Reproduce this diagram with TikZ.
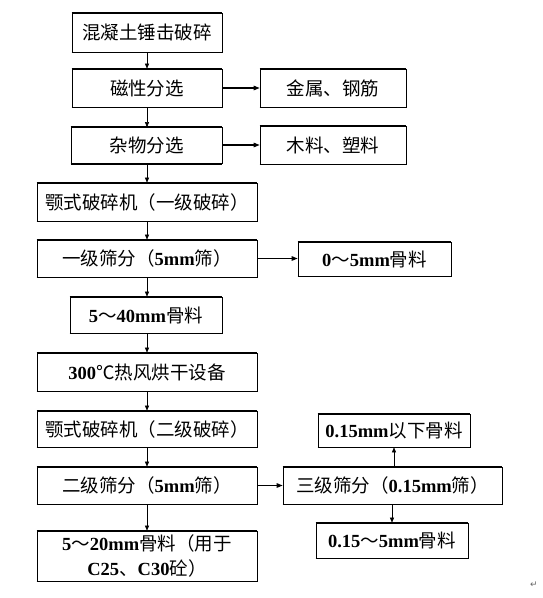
\documentclass[tikz,border=0pt]{standalone}
\usepackage{fontspec}
\setmainfont{Liberation Serif}
\newfontfamily\cjk{Noto Sans CJK SC}
\newfontfamily\latf{Liberation Serif}
\newfontfamily\symf{DejaVu Sans}
\newcommand\lt[1]{{\latf\bfseries #1}}
\usetikzlibrary{arrows.meta}
\tikzset{
  box/.style={draw=black, line width=0.7pt, fill=white, inner sep=0pt, align=center,
    font=\cjk\fontsize{18.5}{25}\selectfont},
  vline/.style={line width=0.5pt, -{Triangle[length=5pt,width=4pt]}},
  hline/.style={line width=1.1pt, -{Triangle[length=6pt,width=4.5pt]}},
  edge/.style={line width=1.4pt}
}
\begin{document}
\begin{tikzpicture}[x=1pt,y=-1pt]
\useasboundingbox[fill=white] (0,0) rectangle (543,598);
% main column
\node[box, minimum width=150, minimum height=39] (b1) at (147,32.5) {混凝土锤击破碎};
\node[box, minimum width=150, minimum height=38] (b2) at (147,88) {磁性分选};
\node[box, minimum width=151, minimum height=36] (b3) at (146.5,145.5) {杂物分选};
\node[box, minimum width=220, minimum height=38] (b4) at (147,202) {颚式破碎机（一级破碎）};
\node[box, minimum width=220, minimum height=37] (b5) at (147,258.5) {一级筛分（\lt{5mm}筛）};
\node[box, minimum width=152, minimum height=36] (b6) at (146,315) {\lt{5}～\lt{40mm}骨料};
\node[box, minimum width=220, minimum height=38] (b7) at (147,372) {\lt{300}℃热风烘干设备};
\node[box, minimum width=220, minimum height=36] (b8) at (147,429) {颚式破碎机（二级破碎）};
\node[box, minimum width=220, minimum height=37] (b9) at (147,485.5) {二级筛分（\lt{5mm}筛）};
\node[box, minimum width=220, minimum height=50] (b10) at (147,556) {\lt{5}～\lt{20mm}骨料（用于\\\lt{C25}、\lt{C30}砼）};
% right column
\node[box, minimum width=146, minimum height=38] (r1) at (333,88) {金属、钢筋};
\node[box, minimum width=146, minimum height=38] (r2) at (333,145) {木料、塑料};
\node[box, minimum width=153, minimum height=34] (r3) at (374.5,259) {\lt{0}～\lt{5mm}骨料};
\node[box, minimum width=152, minimum height=33] (r4) at (394,430.5) {\lt{0.15mm}以下骨料};
\node[box, minimum width=219, minimum height=37] (r5) at (392.5,485.5) {三级筛分（\lt{0.15mm}筛）};
\node[box, minimum width=152, minimum height=35] (r6) at (392,540.5) {\lt{0.15}～\lt{5mm}骨料};
% thicker top and bottom edges
\foreach \n in {b1,b2,b3,b4,b5,b6,b7,b8,b9,b10,r1,r2,r3,r4,r5,r6}{
  \draw[edge] (\n.north west) -- (\n.north east);
  \draw[edge] (\n.south west) -- (\n.south east);
}
% vertical connectors
\draw[vline] (b1.south) -- (b2.north);
\draw[vline] (b2.south) -- (b3.north -| b2.south);
\draw[vline] (b3.south -| b1.south) -- (b4.north);
\draw[vline] (b4.south) -- (b5.north);
\draw[vline] (b5.south) -- (b6.north -| b5.south);
\draw[vline] (b6.south -| b5.south) -- (b7.north);
\draw[vline] (b7.south) -- (b8.north);
\draw[vline] (b8.south) -- (b9.north);
\draw[vline] (b9.south) -- (b10.north);
% horizontal connectors
\draw[hline] (b2.east) -- (r1.west);
\draw[hline] (b3.east |- r2.west) -- (r2.west);
\draw[hline] (b5.east) -- (r3.west |- b5.east);
\draw[hline] (b9.east) -- (r5.west);
% third screening
\draw[vline] (r5.north -| r4.south) -- (r4.south);
\draw[vline] (r5.south -| r6.north) -- (r6.north);
% paragraph mark
\node[font=\symf\fontsize{9}{10}\selectfont, text=black!60, inner sep=0pt] (pm) at (534,585) {↵};
\end{tikzpicture}
\end{document}
